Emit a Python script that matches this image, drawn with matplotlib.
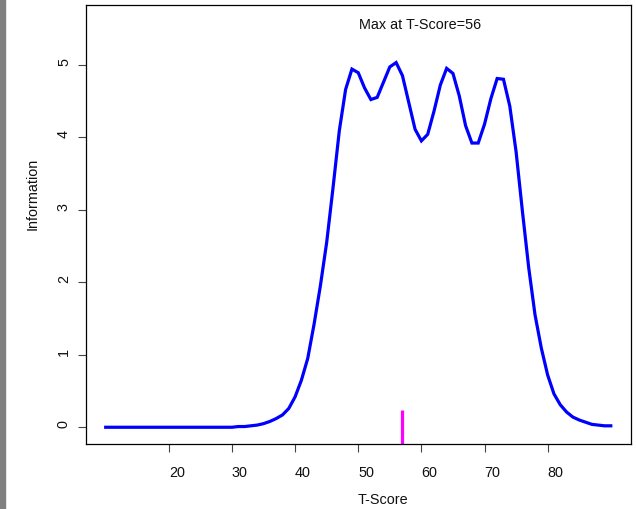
import numpy as np
import matplotlib
matplotlib.use("Agg")
import matplotlib.pyplot as plt
from matplotlib.patches import Rectangle

# Test information function across the T-score range
t_score = list(range(10, 91))
information = (
    [0.0] * 21 +                                   # 10..30
    [0.01, 0.01, 0.02, 0.03, 0.05, 0.08, 0.12, 0.17, 0.26,   # 31..39
     0.42, 0.65, 0.95, 1.42, 1.95, 2.55, 3.30, 4.09, 4.66, 4.94,  # 40..49
     4.89, 4.68, 4.52, 4.55, 4.76, 4.97, 5.03, 4.85, 4.48, 4.11,  # 50..59
     3.95, 4.04, 4.36, 4.72, 4.95, 4.88, 4.57, 4.16, 3.92, 3.92,  # 60..69
     4.18, 4.53, 4.81, 4.80, 4.43, 3.80, 2.98, 2.20, 1.55, 1.09,  # 70..79
     0.72, 0.46, 0.31, 0.21, 0.14, 0.10, 0.07, 0.04, 0.03, 0.02,  # 80..89
     0.02]                                                       # 90
)
marker_score = 56.9
marker_top = 0.24
x_ticks = [20, 30, 40, 50, 60, 70, 80]
y_ticks = [0, 1, 2, 3, 4, 5]

t_arr = np.array(t_score)
i_arr = np.array(information)
peak_score = int(t_arr[np.argmax(i_arr)])

W, H = 636, 510
fig = plt.figure(figsize=(W / 100, H / 100), dpi=100)
FONT = "Liberation Sans"
FS = 10.4

def fx(px):
    return px / W

def fy(py):
    return 1 - py / H

left, right, top, bottom = 85.5, 631.0, 6.0, 444.5
ax = fig.add_axes([fx(left), fy(bottom), fx(right) - fx(left), fy(top) - fy(bottom)])

xmin, xmax = 10, 90
ylo, yhi = 0, 5.6
xr, yr = xmax - xmin, yhi - ylo
ax.set_xlim(xmin - 0.04 * xr, xmax + 0.04 * xr)
ax.set_ylim(ylo - 0.04 * yr, yhi + 0.04 * yr)

ax.plot(t_arr, i_arr, color="#0000FF", lw=2.3, solid_joinstyle="miter")
ax.plot([marker_score, marker_score], [ax.get_ylim()[0], marker_top],
        color="#FF00FF", lw=2.3, solid_capstyle="butt")

for s in ax.spines.values():
    s.set_linewidth(0.9)
    s.set_color("black")

ax.set_xticks(x_ticks)
ax.set_yticks(y_ticks)
ax.tick_params(length=5.8, width=0.8, color="#444444", labelbottom=False, labelleft=False)

# Tick labels: text begins at the tick position
import matplotlib.transforms as mtrans
for v in x_ticks:
    tr = mtrans.blended_transform_factory(ax.transData, fig.transFigure)
    ax.text(v, fy(477.5), str(v), transform=tr, ha="left", va="baseline",
            fontsize=FS, family=FONT, color="#111111")
for v in y_ticks:
    tr = mtrans.blended_transform_factory(fig.transFigure, ax.transData)
    ax.text(fx(68), v, str(v), transform=tr, rotation=90, rotation_mode="anchor",
            ha="left", va="baseline", fontsize=FS, family=FONT, color="#111111")

fig.text(fx(358), fy(504), "T-Score", ha="left", va="baseline",
         fontsize=FS, family=FONT, color="#111111")
fig.text(fx(37), fy(230), "Information", rotation=90, rotation_mode="anchor",
         ha="left", va="baseline", fontsize=FS, family=FONT, color="#111111")
fig.text(fx(359), fy(29), f"Max at T-Score={peak_score}", ha="left", va="baseline",
         fontsize=FS, family=FONT, color="#111111")

# grey strip along the left edge
fig.patches.append(Rectangle((0, 0), fx(5), 1, transform=fig.transFigure,
                             color="#808080", zorder=-1))

fig.savefig("out.png", dpi=100)
